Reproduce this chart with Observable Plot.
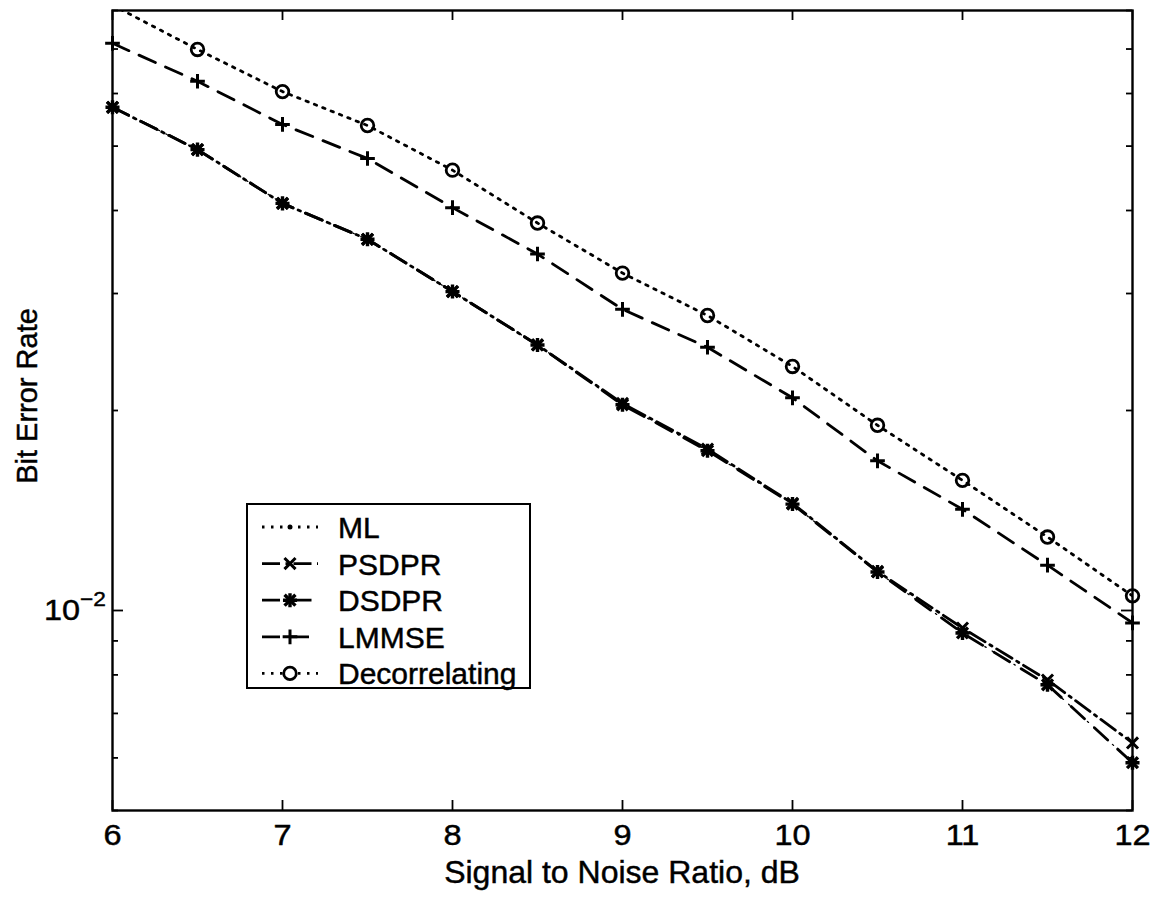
<!DOCTYPE html>
<html><head><meta charset="utf-8">
<script src="https://cdn.jsdelivr.net/npm/d3@7"></script>
<script src="https://cdn.jsdelivr.net/npm/@observablehq/plot@0.6"></script>
<style>
html,body{margin:0;padding:0;background:#fff;}
</style>
</head><body><div id="chart"></div>
<script>
// ---- data ----
const snr = [6, 6.5, 7, 7.5, 8, 8.5, 9, 9.5, 10, 10.5, 11, 11.5, 12];
const mlBer = [0.0572, 0.0494, 0.0410, 0.0362, 0.0302, 0.0251, 0.0204, 0.0174, 0.01446, 0.01143, 0.00925, 0.00773, 0.00590];
const psdprBer = [0.0572, 0.0494, 0.0410, 0.0362, 0.0302, 0.0251, 0.0205, 0.0175, 0.01450, 0.01145, 0.00941, 0.00786, 0.00632];
const dsdprBer = [0.0572, 0.0494, 0.0410, 0.0362, 0.0302, 0.0251, 0.0204, 0.0174, 0.01446, 0.01143, 0.00925, 0.00773, 0.00590];
const lmmseBer = [0.0714, 0.0626, 0.0539, 0.0479, 0.0404, 0.0344, 0.0284, 0.0249, 0.0209, 0.0168, 0.0142, 0.0117, 0.00958];
const decorBer = [0.0815, 0.0699, 0.0604, 0.0537, 0.0460, 0.0383, 0.0322, 0.0278, 0.0233, 0.0190, 0.0157, 0.0129, 0.01052];
const seriesNames = ["ML", "PSDPR", "DSDPR", "LMMSE", "Decorrelating"];
const xTicks = [6, 7, 8, 9, 10, 11, 12];
const yMajorTicks = [0.01];
const yMinorTicks = [0.005, 0.006, 0.007, 0.008, 0.009, 0.02, 0.03, 0.04, 0.05, 0.06, 0.07, 0.08];
const yDomain = [0.005, 0.08];
const xDomain = [6, 12];
const xLabel = "Signal to Noise Ratio, dB";
const yLabel = "Bit Error Rate";

// ---- layout / style ----
const W = 1159, H = 898, ML_ = 112, MR = 27, MT = 10, MB = 88;
const innerW = W - ML_ - MR, innerH = H - MT - MB;
const FONT = "'Liberation Sans', Arial, Helvetica, sans-serif";
const LW = 2.8;
const TEXT_STROKE = 0.45;

const values = {ML: mlBer, PSDPR: psdprBer, DSDPR: dsdprBer, LMMSE: lmmseBer, Decorrelating: decorBer};
const styles = {
  ML: {dash: "1.5,7", width: 1.3, legendDash: "2.5,6.5", legendWidth: LW},
  PSDPR: {dash: "18,5.5,2.5,5.5", width: LW},
  DSDPR: {dash: "18,13.5", width: LW},
  LMMSE: {dash: "18,11", width: LW},
  Decorrelating: {dash: "2.5,6.5", width: LW}
};
const rows = seriesNames.flatMap(name => snr.map((x, i) => ({name, snr: x, ber: values[name][i]})));
const sel = name => rows.filter(d => d.name === name);
const inside = name => sel(name).filter(d => d.ber >= yDomain[0] && d.ber <= yDomain[1]);

const marks = [];
for (const name of ["ML", "DSDPR", "PSDPR", "LMMSE", "Decorrelating"]) {
  marks.push(Plot.line(sel(name), {x: "snr", y: "ber", stroke: "black", strokeWidth: styles[name].width,
    strokeDasharray: styles[name].dash, clip: true}));
}
marks.push(Plot.dot(inside("ML"), {x: "snr", y: "ber", r: 2.5, fill: "black", stroke: "none"}));
marks.push(Plot.dot(inside("PSDPR"), {x: "snr", y: "ber", symbol: "times", r: 5.1, stroke: "black", strokeWidth: 3}));
marks.push(Plot.dot(inside("DSDPR"), {x: "snr", y: "ber", symbol: "plus", r: 4.6, stroke: "black", strokeWidth: 3.4}));
marks.push(Plot.dot(inside("DSDPR"), {x: "snr", y: "ber", symbol: "times", r: 5.0, stroke: "black", strokeWidth: 3.4}));
marks.push(Plot.dot(inside("LMMSE"), {x: "snr", y: "ber", symbol: "plus", r: 4.8, stroke: "black", strokeWidth: 3}));
marks.push(Plot.dot(inside("Decorrelating"), {x: "snr", y: "ber", symbol: "circle", r: 6.3, stroke: "black", strokeWidth: 2.8, fill: "none"}));
// inward ticks
marks.push(Plot.ruleX(xTicks, {x: d => d, insetTop: innerH - 10, stroke: "black", strokeWidth: 1.8}));
marks.push(Plot.ruleX(xTicks, {x: d => d, insetBottom: innerH - 10, stroke: "black", strokeWidth: 1.8}));
marks.push(Plot.ruleY(yMinorTicks, {y: d => d, insetRight: innerW - 6, stroke: "black", strokeWidth: 1.8}));
marks.push(Plot.ruleY(yMinorTicks, {y: d => d, insetLeft: innerW - 6, stroke: "black", strokeWidth: 1.8}));
marks.push(Plot.ruleY(yMajorTicks, {y: d => d, insetRight: innerW - 11, stroke: "black", strokeWidth: 1.8}));
marks.push(Plot.ruleY(yMajorTicks, {y: d => d, insetLeft: innerW - 11, stroke: "black", strokeWidth: 1.8}));
marks.push(Plot.axisX(xTicks, {tickSize: 0, tickPadding: 14, label: null, fill: "black", tickFormat: d => String(d)}));
marks.push(Plot.frame({stroke: "black", strokeWidth: 2.4}));

const plot = Plot.plot({
  width: W, height: H,
  marginLeft: ML_, marginRight: MR, marginTop: MT, marginBottom: MB,
  style: {fontFamily: FONT, fontSize: "29px", color: "black", background: "white", overflow: "visible"},
  x: {domain: xDomain, axis: null},
  y: {type: "log", domain: yDomain, axis: null},
  marks
});
document.getElementById("chart").appendChild(plot);

const svg = d3.select(plot);
const ys = plot.scale("y");
const stretch = [];
svg.selectAll("g[aria-label='x-axis tick label'] text").each(function() {
  stretch.push([this, 1.12]);
  d3.select(this).attr("stroke", "black").attr("stroke-width", TEXT_STROKE);
});

// y tick label 10^-2
const yt = svg.append("text")
  .attr("x", ML_ - 6).attr("y", ys.apply(0.01) + 10)
  .attr("text-anchor", "end").attr("font-family", FONT).attr("fill", "black")
  .attr("stroke", "black").attr("stroke-width", TEXT_STROKE);
yt.append("tspan").attr("font-size", 30).text("10");
yt.append("tspan").attr("font-size", 21).attr("dy", -14).text("\u22122");
stretch.push([yt.node(), 1.08]);

// axis titles
svg.append("text").attr("x", ML_ + innerW / 2).attr("y", 883)
  .attr("text-anchor", "middle").attr("font-family", FONT).attr("font-size", 32).attr("fill", "black")
  .attr("stroke", "black").attr("stroke-width", TEXT_STROKE)
  .text(xLabel);
svg.append("text").attr("transform", `translate(37,${MT + innerH / 2 - 14}) rotate(-90)`)
  .attr("text-anchor", "middle").attr("font-family", FONT).attr("font-size", 29).attr("fill", "black")
  .attr("stroke", "black").attr("stroke-width", TEXT_STROKE)
  .text(yLabel);

// legend
const lg = svg.append("g");
const LX = 247, LY = 504, LWID = 283, LHT = 184;
lg.append("rect").attr("x", LX).attr("y", LY).attr("width", LWID).attr("height", LHT)
  .attr("fill", "white").attr("stroke", "black").attr("stroke-width", 2);
const rowY = i => LY + 23 + i * 36.6;
const sym = (type, r) => d3.symbol(type, Math.PI * r * r)();
seriesNames.forEach((name, i) => {
  const y = rowY(i);
  const g = lg.append("g");
  g.append("line").attr("x1", 262).attr("x2", 318).attr("y1", y).attr("y2", y)
    .attr("stroke", "black").attr("stroke-width", styles[name].legendWidth || styles[name].width)
    .attr("stroke-dasharray", styles[name].legendDash || styles[name].dash);
  const m = g.append("g").attr("transform", `translate(290,${y})`);
  if (name === "ML") m.append("circle").attr("r", 2.5).attr("fill", "black");
  if (name === "PSDPR") m.append("path").attr("d", sym(d3.symbolTimes, 5.1)).attr("stroke", "black").attr("stroke-width", 3).attr("fill", "none");
  if (name === "DSDPR") {
    m.append("path").attr("d", sym(d3.symbolPlus, 4.6)).attr("stroke", "black").attr("stroke-width", 3.4).attr("fill", "none");
    m.append("path").attr("d", sym(d3.symbolTimes, 5.0)).attr("stroke", "black").attr("stroke-width", 3.4).attr("fill", "none");
  }
  if (name === "LMMSE") m.append("path").attr("d", sym(d3.symbolPlus, 4.8)).attr("stroke", "black").attr("stroke-width", 3).attr("fill", "none");
  if (name === "Decorrelating") m.append("circle").attr("r", 6.3).attr("fill", "white").attr("stroke", "black").attr("stroke-width", 2.8);
  g.append("text").attr("x", 338).attr("y", y + 11).attr("font-family", FONT)
    .attr("text-anchor", "start").attr("font-size", 30).attr("fill", "black")
    .attr("stroke", "black").attr("stroke-width", TEXT_STROKE).text(name);
});

// widen glyphs slightly to match the reference lettering
for (const [el, k] of stretch) {
  const w = el.getComputedTextLength();
  el.setAttribute("textLength", (w * k).toFixed(1));
  el.setAttribute("lengthAdjust", "spacingAndGlyphs");
}
</script>
</body></html>
